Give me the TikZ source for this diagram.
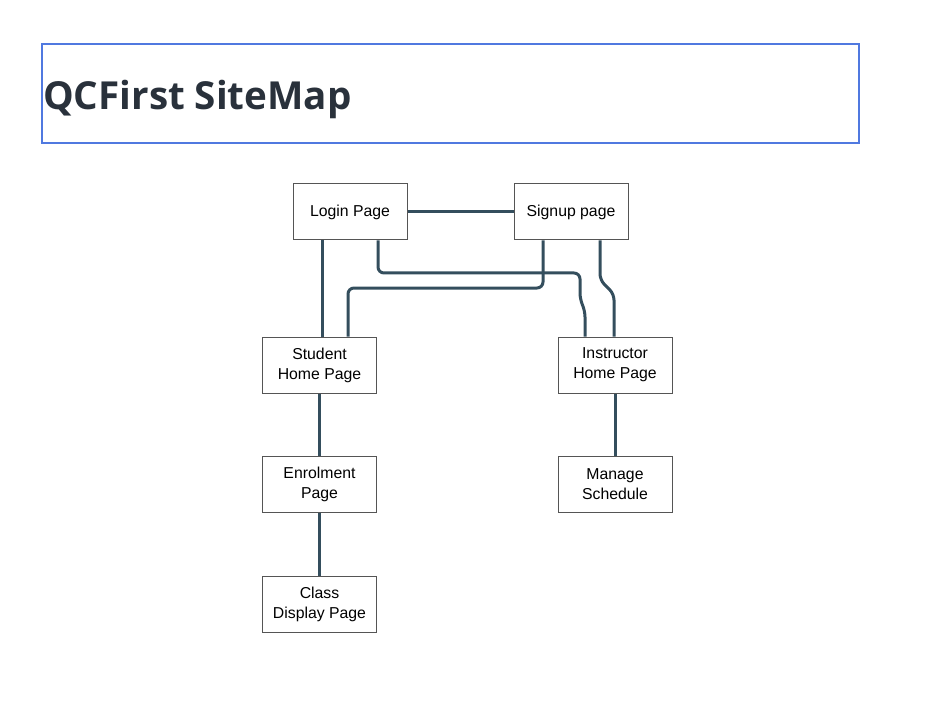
\documentclass[tikz,border=0pt]{standalone}
\usepackage{fontspec}
\setmainfont{Liberation Sans}
\newfontfamily\titlefont{Open Sans}
\definecolor{linkcol}{HTML}{344E5D}
\definecolor{boxgray}{HTML}{555555}
\definecolor{titleblue}{HTML}{5079E0}
\definecolor{titleink}{HTML}{29313B}
\begin{document}
\begin{tikzpicture}[x=1pt,y=-1pt,
    page/.style={draw=boxgray,fill=white,line width=1pt,minimum width=114pt,minimum height=56pt,
      inner sep=1pt,align=center,font=\fontsize{15.8}{20}\selectfont},
    link/.style={draw=linkcol,line width=3pt,rounded corners=6pt}]
    \useasboundingbox (0,0) rectangle (949,708);
    \draw [titleblue,line width=2pt] (42,44) rectangle (859,143);
    \node [anchor=base west,inner sep=0pt,text=titleink,font=\titlefont\bfseries\fontsize{38.6}{46}\selectfont] (title) at (43,110) {QCFirst SiteMap};

    \node [page] (login) at (350,212) {Login Page};
    \node [page] (signup) at (571,212) {Signup page};
    \node [page] (student) at (319.5,365) {Student\\Home Page};
    \node [page] (instructor) at (615,365) {Instructor\\Home Page};
    \node [page] (enrol) at (319.5,484) {Enrolment\\Page};
    \node [page] (manage) at (615,484) {Manage\\Schedule};
    \node [page] (classdisp) at (319.5,604) {Class\\Display Page};

    \draw [link] (login.east) -- (signup.west);
    \draw [link] ([xshift=-28]login.south) -- ([xshift=-28]login.south |- student.north);
    \draw [link] ([xshift=28]login.south) -- (378,273) -- (580,273) -- (580,299) -- (585,311) -- ([xshift=-30]instructor.north);
    \draw [link] ([xshift=-28]signup.south) -- (543,288) -- (348,288) -- ([xshift=28.5]student.north);
    \draw [link] ([xshift=29]signup.south) -- (600,280) -- (614,294) -- ([xshift=-1]instructor.north);
    \draw [link] (student) -- (enrol);
    \draw [link] (enrol) -- (classdisp);
    \draw [link] (instructor) -- (manage);
\end{tikzpicture}
\end{document}
